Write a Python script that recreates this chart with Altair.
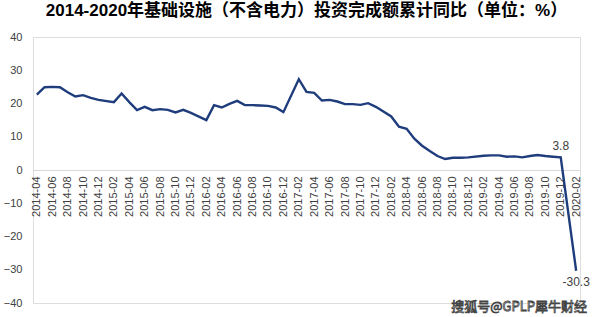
import altair as alt
import pandas as pd

FONT = "Liberation Sans, Arial, Noto Sans CJK SC"

# categories: every month from 2014-04 to 2020-02 (January has no data)
months = []
for y in range(2014, 2021):
    for m in range(1, 13):
        s = f"{y}-{m:02d}"
        if "2014-04" <= s <= "2020-02":
            months.append(s)

values = [
    # 2014-04 .. 2014-12
    22.7, 24.9, 25.0, 24.9, 23.4, 22.1, 22.5, 21.7, 21.1,
    # 2015
    None, 20.4, 23.0, 20.4, 18.0, 19.0, 18.0, 18.3, 18.1, 17.3, 18.1, 17.2,
    # 2016
    None, 15.0, 19.5, 18.8, 19.9, 20.8, 19.5, 19.5, 19.4, 19.3, 18.8, 17.4,
    # 2017
    None, 27.3, 23.5, 23.2, 20.9, 21.1, 20.6, 19.8, 19.8, 19.6, 20.1, 19.0,
    # 2018
    None, 16.1, 13.0, 12.4, 9.4, 7.3, 5.7, 4.2, 3.3, 3.7, 3.7, 3.8,
    # 2019
    None, 4.3, 4.4, 4.4, 4.0, 4.1, 3.8, 4.2, 4.5, 4.2, 4.0, 3.8,
    # 2020
    None, -30.3,
]

tick_labels = [m for m in months if int(m[5:]) % 2 == 0]
y_ticks = [-40, -30, -20, -10, 0, 10, 20, 30, 40]

ann_months = ["2019-12", "2020-02"]
ann_values = [3.8, -30.3]
ann_texts = ["3.8", "-30.3"]

title_text = "2014-2020年基础设施（不含电力）投资完成额累计同比（单位：%）"
watermark = "搜狐号@GPLP犀牛财经"

df = pd.DataFrame({"month": months, "value": values}).dropna()

x_enc = alt.X(
    "month:O",
    scale=alt.Scale(type="point", domain=months, padding=0.5),
    axis=alt.Axis(
        values=tick_labels,
        labelAngle=-90,
        ticks=False,
        grid=False,
        domainColor="#D9D9D9",
        domainWidth=1,
        labelPadding=6,
        labelFontSize=11,
        labelColor="#404040",
        labelFont=FONT,
        labelOverlap=False,
        offset=-133,
        title=None,
    ),
)
y_enc = alt.Y(
    "value:Q",
    scale=alt.Scale(domain=[-40, 40], nice=False, zero=False),
    axis=alt.Axis(
        values=y_ticks,
        grid=False,
        domain=False,
        ticks=False,
        labelPadding=11,
        labelFontSize=11,
        labelColor="#404040",
        labelFont=FONT,
        labelOverlap=False,
        title=None,
    ),
)

line = alt.Chart(df).mark_line(color="#1F3C7C", strokeWidth=2.4).encode(x=x_enc, y=y_enc)

ann_df = pd.DataFrame({"month": ann_months, "value": ann_values, "label": ann_texts})
ann_top = alt.Chart(ann_df.iloc[[0]]).mark_text(
    fontSize=12, font=FONT, color="#404040", baseline="bottom", dy=-4
).encode(x=x_enc, y=y_enc, text="label:N")
ann_bot = alt.Chart(ann_df.iloc[[1]]).mark_text(
    fontSize=12, font=FONT, color="#404040", baseline="top", dy=6
).encode(x=x_enc, y=y_enc, text="label:N")

wm = alt.Chart(pd.DataFrame({"t": [watermark]})).mark_text(
    fontSize=13, font="Noto Sans CJK SC", fill="#FFFFFF", stroke="#444444",
    strokeWidth=0.8, align="right", baseline="middle"
).encode(x=alt.value(554), y=alt.value(270), text="t:N")

chart = alt.layer(line, ann_top, ann_bot, wm).properties(
    width=547,
    height=266,
    autosize="none",
    padding={"left": 33, "top": 37, "right": 20, "bottom": 14},
    title=alt.TitleParams(
        text=title_text,
        fontSize=17,
        fontWeight="bold",
        font=FONT,
        color="#000000",
        anchor="middle",
        baseline="middle",
        offset=3,
        frame="group",
    ),
).configure_view(stroke=None).configure(background="white")

chart.save("out.html", embed_options={"renderer": "svg", "actions": False})
